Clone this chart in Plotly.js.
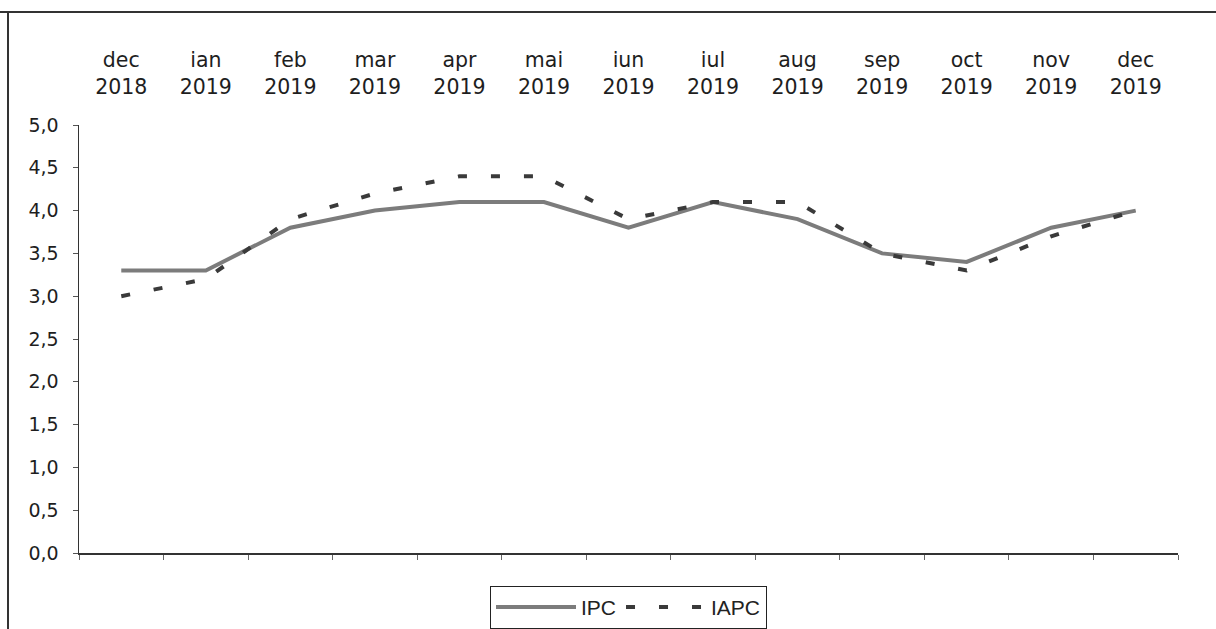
<!DOCTYPE html>
<html>
<head>
<meta charset="utf-8">
<script src="https://cdn.plot.ly/plotly-3.0.1.min.js"></script>
<style>
  html, body { margin: 0; padding: 0; background: #fff; }
  #chart { width: 1216px; height: 629px; }
</style>
</head>
<body>
<div id="chart"></div>
<script>
// Data
var categories = ["dec 2018", "ian 2019", "feb 2019", "mar 2019", "apr 2019", "mai 2019", "iun 2019",
                  "iul 2019", "aug 2019", "sep 2019", "oct 2019", "nov 2019", "dec 2019"];
var topLabels = ["dec<br>2018", "ian<br>2019", "feb<br>2019", "mar<br>2019", "apr<br>2019", "mai<br>2019",
                 "iun<br>2019", "iul<br>2019", "aug<br>2019", "sep<br>2019", "oct<br>2019", "nov<br>2019", "dec<br>2019"];
var ipc  = [3.3, 3.3, 3.8, 4.0, 4.1, 4.1, 3.8, 4.1, 3.9, 3.5, 3.4, 3.8, 4.0];
var iapc = [3.0, 3.2, 3.9, 4.2, 4.4, 4.4, 3.9, 4.1, 4.1, 3.5, 3.3, 3.7, 4.0];
var seriesNames = ["IPC", "IAPC"];

var positions = categories.map(function (_, i) { return i; });

var traces = [
  {
    x: categories, y: ipc, name: seriesNames[0], type: "scatter", mode: "lines",
    line: { color: "#7c7c7c", width: 4 }, hoverinfo: "skip"
  },
  {
    x: categories, y: iapc, name: seriesNames[1], type: "scatter", mode: "lines",
    line: { color: "#3a3a3a", width: 4, dash: "9px,24px" }, hoverinfo: "skip"
  }
];

var layout = {
  width: 1216, height: 629,
  margin: { l: 79, r: 38, t: 125, b: 76, autoexpand: false },
  paper_bgcolor: "#ffffff", plot_bgcolor: "#ffffff",
  separators: ",.",
  font: { family: "DejaVu Sans, sans-serif", color: "#222" },
  showlegend: true,
  xaxis: {
    type: "category", range: [-0.5, 12.5],
    showticklabels: false, ticks: "outside", tickson: "boundaries", ticklen: 5,
    tickcolor: "#666", tickwidth: 1,
    showline: true, linecolor: "#333", linewidth: 2,
    showgrid: false, zeroline: false, fixedrange: true
  },
  xaxis2: {
    overlaying: "x", side: "top", type: "linear", range: [-0.5, 12.5],
    tickmode: "array", tickvals: positions, ticktext: topLabels,
    ticks: "outside", ticklen: 22, tickcolor: "rgba(0,0,0,0)",
    tickfont: { family: "DejaVu Sans, sans-serif", size: 20.5, color: "#1e1e1e" },
    showline: false, showgrid: false, zeroline: false, fixedrange: true
  },
  yaxis: {
    range: [0, 5], dtick: 0.5, tick0: 0, tickformat: ".1f",
    ticks: "outside", ticklen: 5, tickcolor: "#555", tickwidth: 1,
    ticklabelstandoff: 10,
    tickfont: { family: "DejaVu Sans, sans-serif", size: 19, color: "#1e1e1e" },
    showline: true, linecolor: "#333", linewidth: 1.5,
    showgrid: false, zeroline: false, fixedrange: true
  },
  legend: {
    orientation: "h", x: 0.5, xanchor: "center", y: -0.077, yanchor: "top",
    bordercolor: "#222", borderwidth: 1, bgcolor: "#fff",
    itemwidth: 80,
    font: { family: "Liberation Sans, Arial, sans-serif", size: 21, color: "#222" }
  },
  shapes: [
    { type: "line", xref: "paper", yref: "paper", x0: -0.072, x1: 1.035, y0: 1.264, y1: 1.264,
      line: { color: "#333", width: 2 } },
    { type: "line", xref: "paper", yref: "paper", x0: -0.0646, x1: -0.0646, y0: 1.264, y1: -0.18,
      line: { color: "#333", width: 2 } }
  ]
};

// invisible trace that binds the top label axis
traces.push({ x: positions, y: ipc, xaxis: "x2", type: "scatter", mode: "lines",
  line: { color: "rgba(0,0,0,0)" }, showlegend: false, hoverinfo: "skip" });

Plotly.newPlot("chart", traces, layout, { staticPlot: true, displayModeBar: false });
</script>
</body>
</html>
